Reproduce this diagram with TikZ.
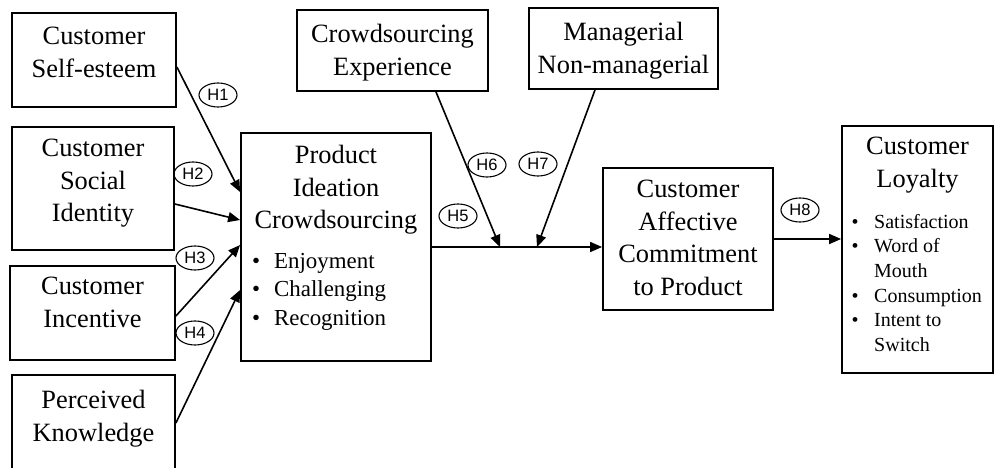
\documentclass[tikz,border=0pt]{standalone}
\usepackage{fontspec}
\setmainfont{Liberation Serif}
\newfontfamily\hfont{Liberation Sans}
\usetikzlibrary{shapes.geometric,arrows.meta}
\begin{document}
\begin{tikzpicture}[x=1pt,y=-1pt,
  box/.style={draw,line width=1.8pt,inner sep=0},
  ttl/.style={inner sep=0,align=center,anchor=north,font=\fontsize{26.4}{32.5}\selectfont},
  hyp/.style={ellipse,draw,line width=1.1pt,inner sep=0,minimum width=38pt,minimum height=24pt,
    font=\hfont\fontsize{16.5}{16.5}\selectfont},
  arr/.style={line width=1.6pt,-{Triangle[length=12pt,width=10pt]}},
  blist/.style={inner sep=0,anchor=north west}
]
\useasboundingbox (0,0) rectangle (995,468);
\clip (0,0) rectangle (995,468);

% construct boxes
\node[box,minimum width=164pt,minimum height=94pt]  (se)  at (94,60)     {};
\node[box,minimum width=162pt,minimum height=123pt] (si)  at (93,188.5)  {};
\node[box,minimum width=165pt,minimum height=94pt]  (inc) at (92.5,313)  {};
\node[box,minimum width=163pt,minimum height=110pt] (pk)  at (93.5,430)  {};
\node[box,minimum width=190pt,minimum height=228pt] (pic) at (336,247)   {};
\node[box,minimum width=191pt,minimum height=81pt]  (ce)  at (392.5,50.5) {};
\node[box,minimum width=189pt,minimum height=81pt]  (mg)  at (623.5,48.5) {};
\node[box,minimum width=170pt,minimum height=142pt] (cac) at (688,239)   {};
\node[box,minimum width=151pt,minimum height=247pt] (cl)  at (917.5,249.5) {};

% box titles
\node[ttl] (seT)  at (94,27)    {Customer\\Self-esteem};
\node[ttl] (siT)  at (93,139)   {Customer\\Social\\Identity};
\node[ttl] (incT) at (92.5,277) {Customer\\Incentive};
\node[ttl] (pkT)  at (93.5,390) {Perceived\\Knowledge};
\node[ttl] (picT) at (336,145)  {Product\\Ideation\\Crowdsourcing};
\node[ttl] (ceT)  at (392.5,24) {Crowdsourcing\\Experience};
\node[ttl] (mgT)  at (623.5,22) {Managerial\\Non-managerial};
\node[ttl] (cacT) at (688,180)  {Customer\\Affective\\Commitment\\to Product};
\node[ttl] (clT)  at (917.5,137) {Customer\\Loyalty};

% bullet lists
\node[blist,font=\fontsize{22.9}{28.5}\selectfont] (picL) at (252,248)
  {\begin{tabular}[t]{@{}l@{}l@{}}
   \makebox[22pt][l]{\textbullet} & Enjoyment\\
   \makebox[22pt][l]{\textbullet} & Challenging\\
   \makebox[22pt][l]{\textbullet} & Recognition
   \end{tabular}};
\node[blist,font=\fontsize{20}{24.6}\selectfont] (clL) at (851.5,210.8)
  {\begin{tabular}[t]{@{}l@{}l@{}}
   \makebox[22.5pt][l]{\textbullet} & Satisfaction\\
   \makebox[22.5pt][l]{\textbullet} & Word of\\
    & Mouth\\
   \makebox[22.5pt][l]{\textbullet} & Consumption\\
   \makebox[22.5pt][l]{\textbullet} & Intent to\\
    & Switch
   \end{tabular}};

% paths
\coordinate (m6) at (500,247);
\coordinate (m7) at (537,247);
\draw[arr] ([yshift=-7pt]se.east)   -- ([yshift=55pt]pic.west);
\draw[arr] ([yshift=-15.5pt]si.east) -- ([yshift=27pt]pic.west);
\draw[arr] ([yshift=-3pt]inc.east)  -- ([yshift=2pt]pic.west);
\draw[arr] ([yshift=7pt]pk.east)    -- ([yshift=-43pt]pic.west);
\draw[arr] (pic.east) -- (pic.east -| cac.west);
\draw[arr] ([xshift=43.5pt]ce.south) -- (m6);
\draw[arr] ([xshift=-28.5pt]mg.south) -- (m7);
\draw[arr] (cac.east) -- (cac.east -| cl.west);

% hypothesis labels
\node[hyp] (h1) at (218,95)  {H1};
\node[hyp] (h2) at (193,174) {H2};
\node[hyp] (h3) at (195,258) {H3};
\node[hyp] (h4) at (195,333) {H4};
\node[hyp] (h5) at (458,216) {H5};
\node[hyp] (h6) at (487,165) {H6};
\node[hyp] (h7) at (538,164) {H7};
\node[hyp] (h8) at (800,210) {H8};
\end{tikzpicture}
\end{document}
